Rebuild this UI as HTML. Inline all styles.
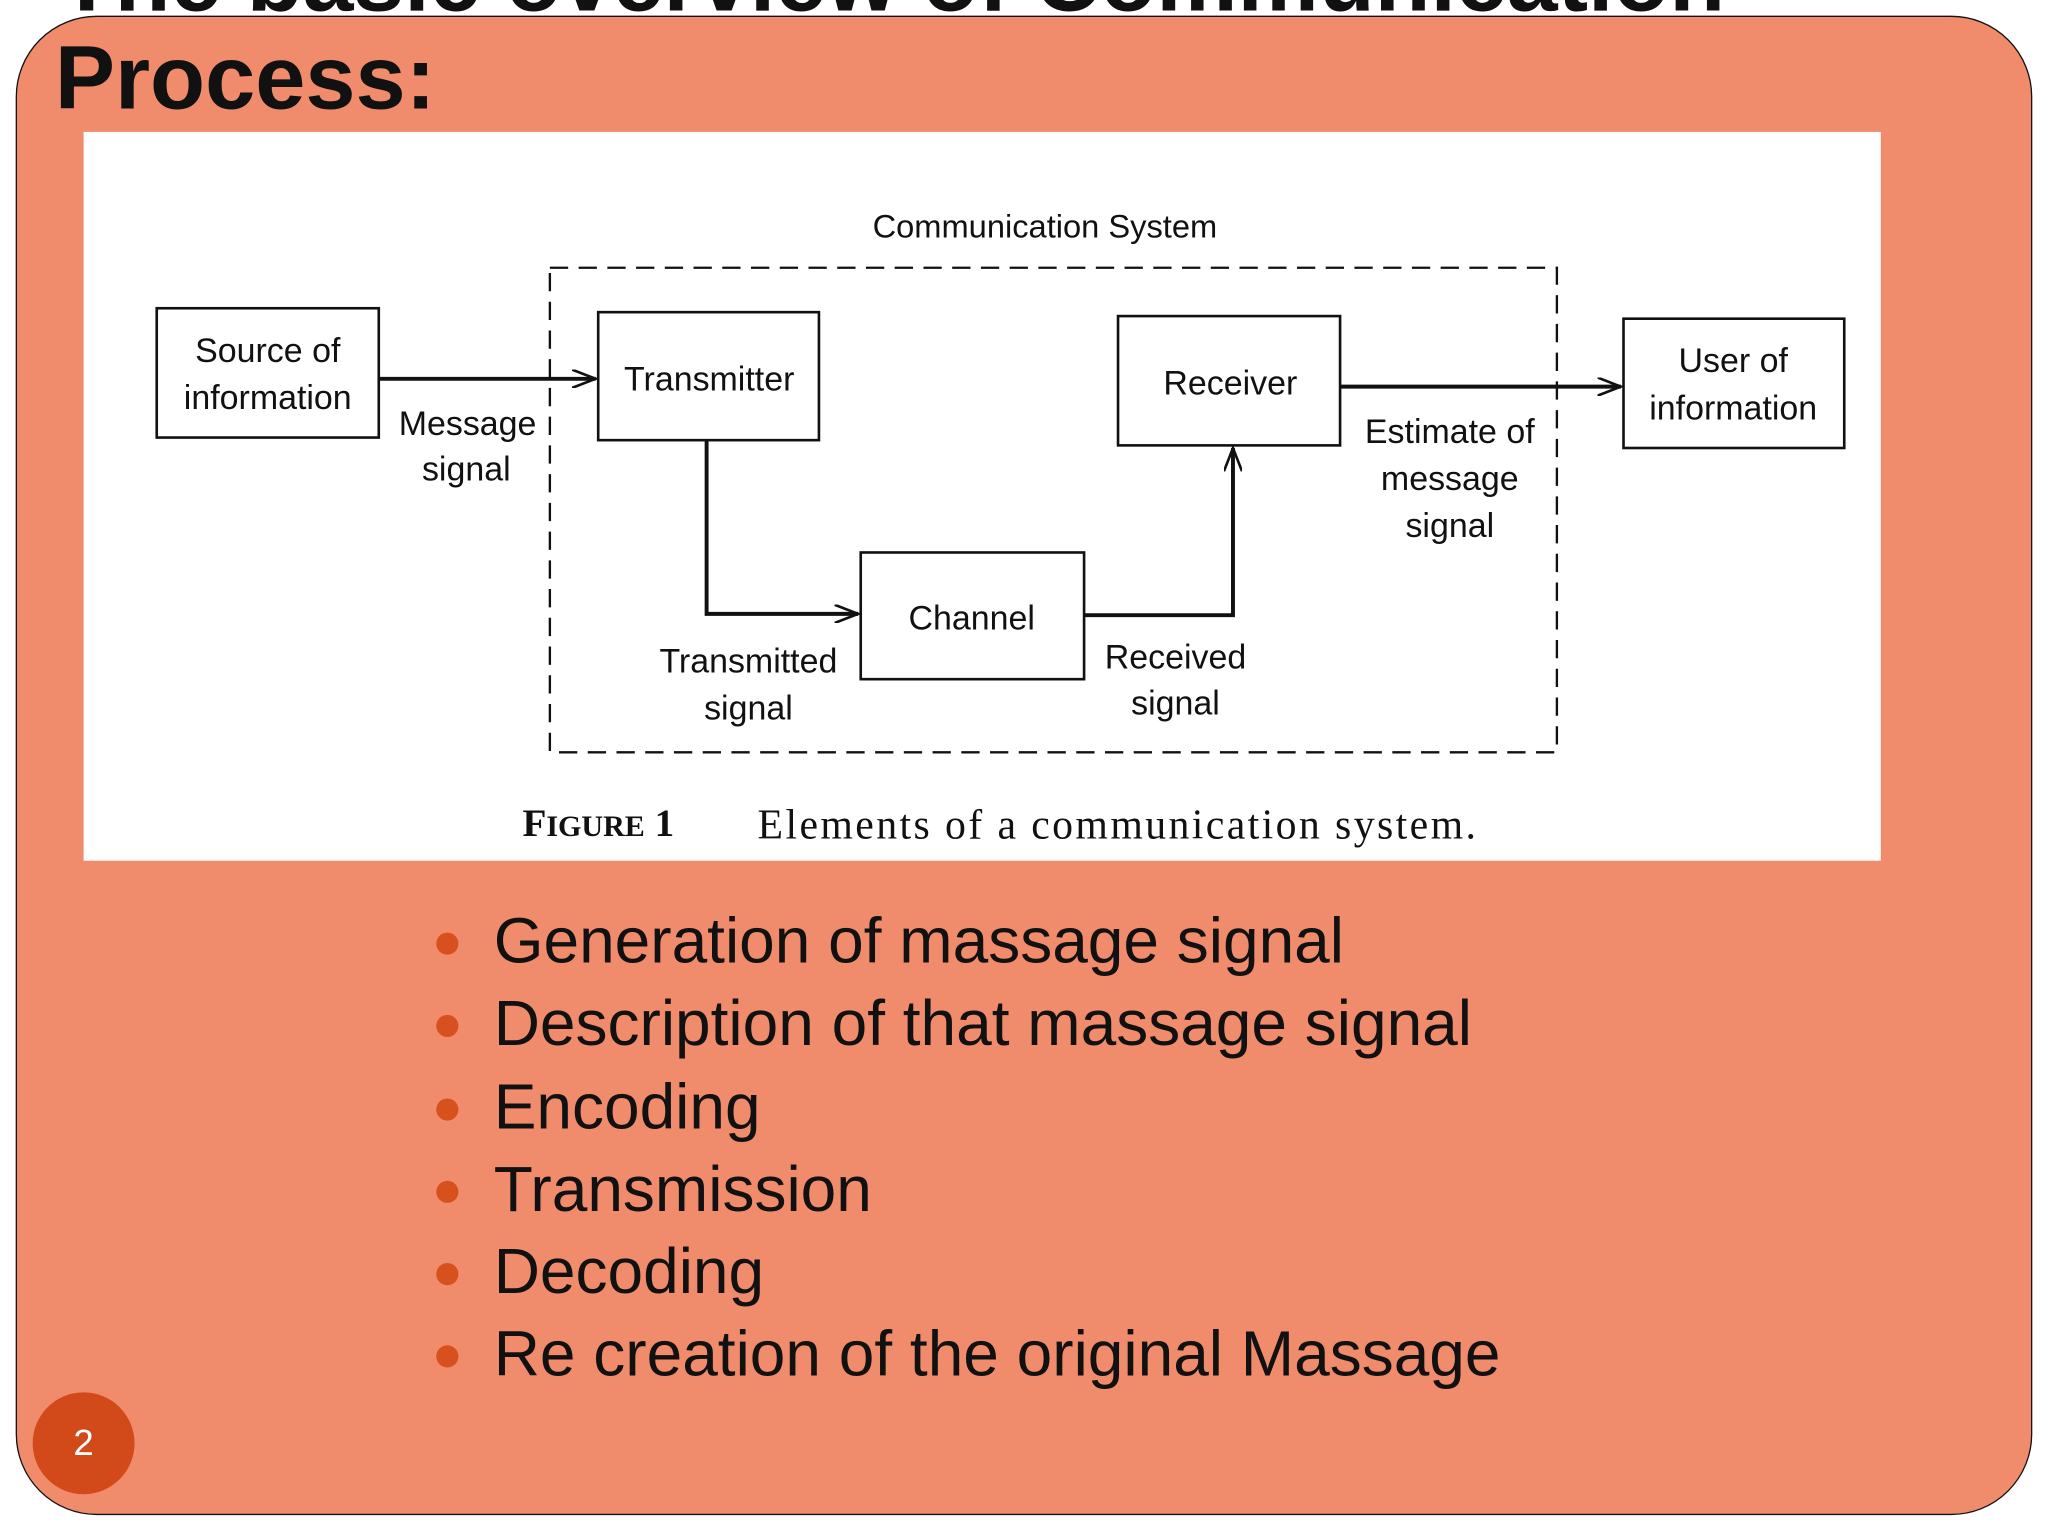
<!DOCTYPE html>
<html><head><meta charset="utf-8"><style>
html,body{margin:0;padding:0;background:#fff;overflow:hidden;}
body{width:2048px;height:1536px;position:relative;}
#w{position:absolute;left:0;top:0;width:1568px;height:1176px;transform:scale(1.30612);transform-origin:0 0;}
.slide{position:absolute;left:12px;top:12px;width:1542px;height:1146px;background:#F08C6C;border:1.5px solid #111;border-radius:62px;}
.t0{position:absolute;left:45px;top:-56px;font:bold 70px "Liberation Sans",sans-serif;color:#111;white-space:nowrap;}
.t1{position:absolute;left:42px;top:20px;font:bold 69px "Liberation Sans",sans-serif;color:#111;white-space:nowrap;}
.fig{position:absolute;left:64px;top:101px;width:1376px;height:558px;background:#fff;}
ul{position:absolute;left:330px;top:690px;margin:0;padding:0;list-style:none;font:49px "Liberation Sans",sans-serif;color:#111;}
li{height:63.3px;line-height:63px;position:relative;padding-left:48px;white-space:nowrap;}
li:before{content:"";position:absolute;left:4px;top:24px;width:17px;height:17px;border-radius:50%;background:#D9501F;}
.pn{position:absolute;left:25px;top:1066px;width:78px;height:78px;border-radius:50%;background:#D24A1A;color:#fff;font:28px "Liberation Sans",sans-serif;text-align:center;line-height:78px;}
</style></head><body><div id="w">
<div class="t0">The basic overview of Communication</div>
<div class="slide"></div>
<div class="t1">Process:</div>
<div class="fig"></div>
<svg style="position:absolute;left:0;top:0" width="1568" height="1176" viewBox="0 0 1568 1176">
<defs><marker id="a" markerWidth="20" markerHeight="14" refX="18" refY="7" orient="auto" markerUnits="userSpaceOnUse"><path d="M0,0 L18,7 L0,14" fill="none" stroke="#111" stroke-width="2"/></marker></defs>
<g fill="none" stroke="#111" stroke-width="2">
<rect x="421" y="205" width="771" height="371" stroke-dasharray="14,8" stroke-width="1.8"/>
<rect x="120" y="236" width="170" height="99"/>
<rect x="458" y="239" width="169" height="98"/>
<rect x="856" y="242" width="170" height="99"/>
<rect x="1243" y="244" width="169" height="99"/>
<rect x="659" y="423" width="171" height="97"/>
<g stroke-width="3">
<line x1="290" y1="290" x2="456" y2="290" marker-end="url(#a)"/>
<line x1="1026" y1="296" x2="1241" y2="296" marker-end="url(#a)"/>
<polyline points="541,337 541,470 657,470" marker-end="url(#a)"/>
<polyline points="830,471 944,471 944,343" marker-end="url(#a)"/>
</g></g>
<g font-family="Liberation Sans, sans-serif" font-size="26" fill="#111" text-anchor="middle">
<text x="800" y="182" font-size="25">Communication System</text>
<text x="205" y="277">Source of</text><text x="205" y="313">information</text>
<text x="543" y="299">Transmitter</text>
<text x="942" y="302">Receiver</text>
<text x="1327" y="285">User of</text><text x="1327" y="321">information</text>
<text x="744" y="482">Channel</text>
<text x="358" y="333">Message</text><text x="357" y="368">signal</text>
<text x="573" y="515">Transmitted</text><text x="573" y="551">signal</text>
<text x="900" y="512">Received</text><text x="900" y="547">signal</text>
<text x="1110" y="339">Estimate of</text><text x="1110" y="375">message</text><text x="1110" y="411">signal</text>
</g>
<g font-family="Liberation Serif, serif" fill="#111">
<text x="400" y="640" font-size="30" font-weight="bold">F<tspan font-size="23">IGURE</tspan> 1</text>
<text x="580" y="642" font-size="32" textLength="550">Elements of a communication system.</text>
</g>
</svg>
<ul>
<li>Generation of massage signal</li>
<li>Description of that massage signal</li>
<li>Encoding</li>
<li>Transmission</li>
<li>Decoding</li>
<li>Re creation of the original Massage</li>
</ul>
<div class="pn">2</div>
</div></body></html>
